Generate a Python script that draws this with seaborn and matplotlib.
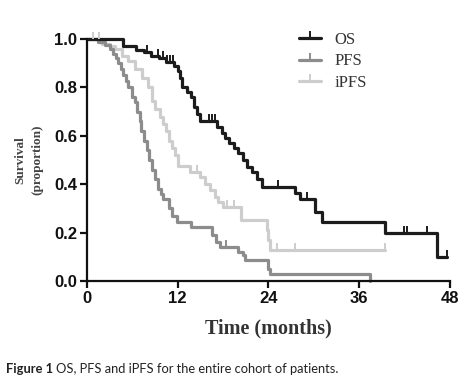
import numpy as np
import pandas as pd
import matplotlib
matplotlib.use('Agg')
import matplotlib.pyplot as plt
import seaborn as sns
from matplotlib.lines import Line2D

# step points: at time t the survival drops to s
os_t = [0, 4.8, 6.5, 7.5, 8.5, 9.5, 10.5, 11.5, 12.0, 12.3, 12.6, 13.3, 13.8, 14.2, 14.6, 15.0,
        17.2, 17.8, 18.3, 18.8, 19.4, 20.0, 20.6, 21.2, 21.8, 22.5, 23.1, 27.5, 28.2, 30.2, 31.1,
        39.4, 46.3, 47.6]
os_s = [1.0, 0.97, 0.955, 0.945, 0.93, 0.92, 0.905, 0.89, 0.87, 0.84, 0.80, 0.78, 0.76, 0.72, 0.69, 0.66,
        0.635, 0.61, 0.59, 0.57, 0.55, 0.53, 0.50, 0.47, 0.45, 0.42, 0.39, 0.365, 0.34, 0.285, 0.243,
        0.20, 0.10, 0.10]
os_cens = [7.9, 9.4, 10.0, 10.6, 11.0, 11.4, 16.2, 16.6, 17.0, 25.3, 29.1, 42.0, 42.3, 45.0, 47.6]

pfs_t = [0, 1.5, 2.4, 3.0, 3.4, 3.8, 4.1, 4.5, 4.8, 5.1, 5.4, 5.9, 6.3, 6.6, 7.0, 7.2, 7.5, 7.9, 8.2,
         8.6, 9.0, 9.4, 9.8, 10.1, 10.8, 11.3, 11.9, 13.8, 16.5, 17.1, 17.6, 20.0, 20.6, 20.9, 24.0,
         24.2, 37.4]
pfs_s = [1.0, 0.99, 0.975, 0.96, 0.94, 0.92, 0.90, 0.875, 0.85, 0.825, 0.80, 0.76, 0.74, 0.70, 0.66,
         0.62, 0.58, 0.54, 0.50, 0.46, 0.42, 0.38, 0.36, 0.34, 0.30, 0.27, 0.244, 0.224, 0.19, 0.16,
         0.14, 0.12, 0.107, 0.085, 0.05, 0.03, 0.0]
pfs_cens = [18.4]

ipfs_t = [0, 2.0, 3.0, 3.7, 4.6, 5.4, 6.3, 7.3, 8.1, 8.6, 9.0, 9.7, 10.1, 10.5, 10.9, 11.2, 11.6,
          12.0, 13.6, 14.9, 15.6, 16.3, 16.9, 17.4, 18.0, 20.4, 23.8, 24.0, 24.2, 39.4]
ipfs_s = [1.0, 0.98, 0.97, 0.96, 0.93, 0.91, 0.875, 0.84, 0.80, 0.745, 0.71, 0.676, 0.65, 0.62, 0.58,
          0.55, 0.52, 0.477, 0.45, 0.43, 0.40, 0.375, 0.347, 0.326, 0.306, 0.253, 0.21, 0.17, 0.127,
          0.127]
ipfs_cens = [0.8, 1.6, 14.5, 18.5, 19.4, 25.1, 27.5, 39.4]

x_ticks = [0, 12, 24, 36, 48]
y_ticks = [0.0, 0.2, 0.4, 0.6, 0.8, 1.0]

colors = {'OS': '#1c1c1c', 'PFS': '#8c8c8c', 'iPFS': '#cdcdcd'}
curves = {'OS': (os_t, os_s, os_cens), 'PFS': (pfs_t, pfs_s, pfs_cens), 'iPFS': (ipfs_t, ipfs_s, ipfs_cens)}

df = pd.concat([pd.DataFrame({'time': t, 'survival': s, 'curve': k}) for k, (t, s, c) in curves.items()])

sns.set_style('ticks')
fig = plt.figure(figsize=(4.7, 3.87), dpi=100)
ax = fig.add_axes([0.185, 0.274, 0.772, 0.625])

sns.lineplot(data=df, x='time', y='survival', hue='curve', hue_order=['iPFS', 'PFS', 'OS'],
             palette=colors, drawstyle='steps-post', linewidth=2.3, errorbar=None,
             legend=False, ax=ax, clip_on=False)

for k in ['iPFS', 'PFS', 'OS']:
    t, s, c = curves[k]
    idx = np.searchsorted(t, c, side='right') - 1
    ax.plot(c, np.array(s)[idx], linestyle='none', marker=2, markersize=5, mew=1.4,
            color=colors[k], clip_on=False)

ax.set_xlim(0, 48)
ax.set_ylim(0, 1.0)
ax.set_xticks(x_ticks)
ax.set_yticks(y_ticks)
ax.set_yticklabels([f'{v:.1f}' for v in y_ticks])
for lab in ax.get_xticklabels() + ax.get_yticklabels():
    lab.set_fontfamily('Liberation Sans')
    lab.set_fontweight('bold')
    lab.set_fontsize(12)
ax.tick_params(direction='out', length=5, width=1.6, colors='#111111', pad=2)
sns.despine(ax=ax)
for sp in ['left', 'bottom']:
    ax.spines[sp].set_linewidth(1.6)
    ax.spines[sp].set_color('#111111')

ax.set_xlabel('Time (months)', family='Liberation Serif', fontweight='bold', fontsize=14.5,
              color='#333333', labelpad=9)
ax.set_ylabel('Survival\n(proportion)', family='Liberation Serif', fontweight='bold', fontsize=9.5,
              color='#444444', labelpad=8, linespacing=1.5)

handles = [Line2D([], [], color=colors[k], lw=2.3, marker=2, markersize=5, mew=1.4) for k in ['OS', 'PFS', 'iPFS']]
fig.legend(handles, ['OS', 'PFS', 'iPFS'], loc='upper left', bbox_to_anchor=(0.618, 0.94),
           frameon=False, prop={'family': 'Liberation Serif', 'size': 12}, handlelength=1.35,
           handletextpad=0.8, labelspacing=0.35, borderpad=0, labelcolor='#333333')

t1 = fig.text(0.012, 0.035, 'Figure 1 ', family='Lato', fontweight='bold', fontsize=9.3, color='#222222')
ax.annotate('OS, PFS and iPFS for the entire cohort of patients.', xy=(1, 0), xycoords=t1,
            family='Lato', fontsize=9.3, color='#222222', va='bottom', annotation_clip=False)

fig.savefig('out.png', dpi=100)
